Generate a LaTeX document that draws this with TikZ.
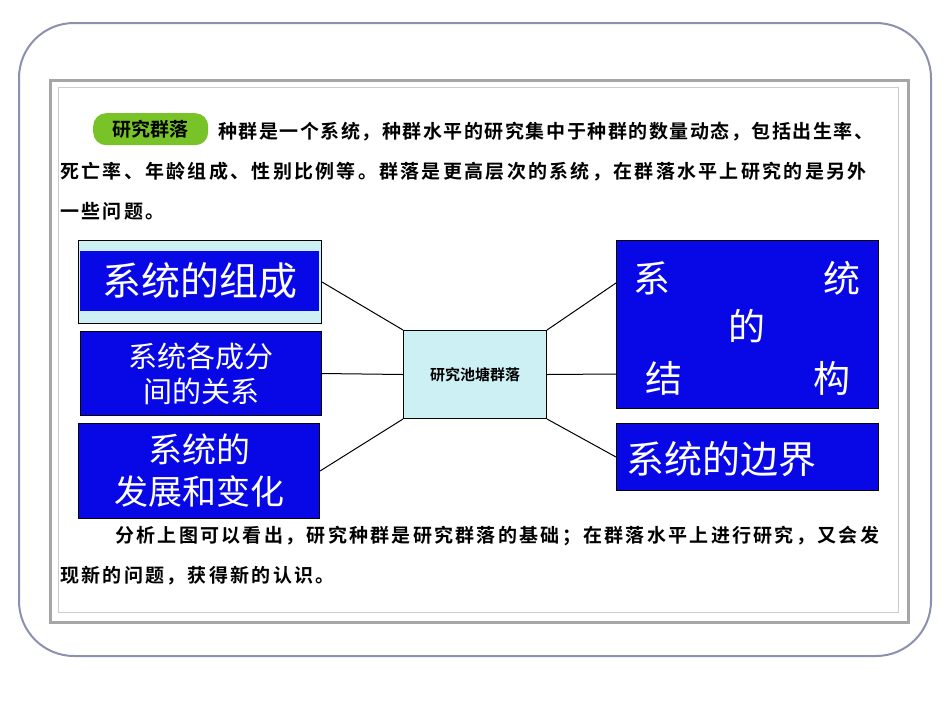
\documentclass[tikz,border=0pt]{standalone}
\usepackage{fontspec}
\setmainfont{Noto Sans CJK SC}
\newfontfamily\cjkb{Noto Sans CJK SC Bold}
\definecolor{bbox}{RGB}{8,8,230}
\definecolor{cyanbg}{RGB}{205,240,245}
\definecolor{frameblue}{RGB}{140,145,175}
\definecolor{pillgreen}{RGB}{120,195,40}
\tikzset{
  bluebox/.style={draw=black,line width=1pt,fill=bbox,text=white,align=center,inner sep=0pt},
  para/.style={anchor=base west,inner sep=0pt,font=\cjkb\fontsize{19}{19}\selectfont},
  big/.style={text=white,font=\fontsize{37}{37}\selectfont,anchor=center},
  link/.style={black,line width=1pt}
}
\newcommand{\ls}[1]{\addfontfeatures{LetterSpace=#1}}
\begin{document}
\begin{tikzpicture}[x=1pt,y=-1pt]
\useasboundingbox (0,0) rectangle (950,713);
\fill[white] (0,0) rectangle (950,713);
\node[draw=frameblue,line width=2pt,rounded corners=55pt,minimum width=912pt,minimum height=633pt,anchor=north west] (outer) at (18,22) {};
\node[draw=gray!70,line width=3pt,fill=white,minimum width=858pt,minimum height=542pt,anchor=north west] (panel) at (49,79) {};
\draw[gray!40,line width=1pt] (58,87) rectangle (898,612);
\node[fill=pillgreen,rounded corners=13pt,minimum width=115pt,minimum height=32pt,font=\cjkb\fontsize{19}{19}\selectfont,inner sep=0pt,anchor=north west] (pill) at (93,113) {研究群落};
\node[para] (t1) at (218,138) {\ls{8}种群是一个系统，种群水平的研究集中于种群的数量动态，包括出生率、};
\node[para] (t2) at (60,178) {\ls{12}死亡率、年龄组成、性别比例等。群落是更高层次的系统，在群落水平上研究的是另外};
\node[para] (t3) at (60,218) {\ls{12}一些问题。};
\node[draw=black,line width=1pt,fill=cyanbg,minimum width=243pt,minimum height=83pt,anchor=north west,inner sep=0pt] (b1o) at (78,240) {};
\node[fill=bbox,text=white,minimum width=239pt,minimum height=60pt,anchor=north west,inner sep=0pt,font=\fontsize{39}{39}\selectfont] (b1) at (80,251) {系统的组成};
\node[bluebox,minimum width=241pt,minimum height=84pt,anchor=north west,font=\fontsize{29}{35}\selectfont] (b2) at (80,331) {系统各成分\\间的关系};
\node[bluebox,minimum width=241pt,minimum height=95pt,anchor=north west,font=\fontsize{34}{42}\selectfont] (b3) at (78,423) {系统的\\发展和变化};
\node[draw=black,line width=1pt,fill=cyanbg,minimum width=143pt,minimum height=88pt,anchor=north west,inner sep=0pt,font=\cjkb\fontsize{15}{15}\selectfont] (c) at (403,330) {研究池塘群落};
\node[bluebox,minimum width=262pt,minimum height=168pt,anchor=north west] (r1) at (616,240) {};
\node[big] at (652,278) {系};
\node[big] at (842,278) {统};
\node[big] at (747,326) {的};
\node[big] at (664,378) {结};
\node[big] at (832,378) {构};
\node[bluebox,minimum width=262pt,minimum height=67pt,anchor=north west] (r2) at (616,423) {};
\node[text=white,font=\fontsize{38}{38}\selectfont,anchor=west,inner sep=0pt] (r2t) at (626,459) {系统的边界};
\draw[link] (c.north west) -- (b1o.east);
\draw[link] (c.west) -- (b2.east);
\draw[link] (c.south west) -- (b3.east);
\draw[link] (c.north east) -- (r1.west |- 0,283);
\draw[link] (c.east) -- (r1.west |- 0,374);
\draw[link] (c.south east) -- (r2.west);
\node[para] (t4) at (115,542) {\ls{12}分析上图可以看出，研究种群是研究群落的基础；在群落水平上进行研究，又会发};
\node[para] (t5) at (60,582) {\ls{12}现新的问题，获得新的认识。};
\end{tikzpicture}
\end{document}
